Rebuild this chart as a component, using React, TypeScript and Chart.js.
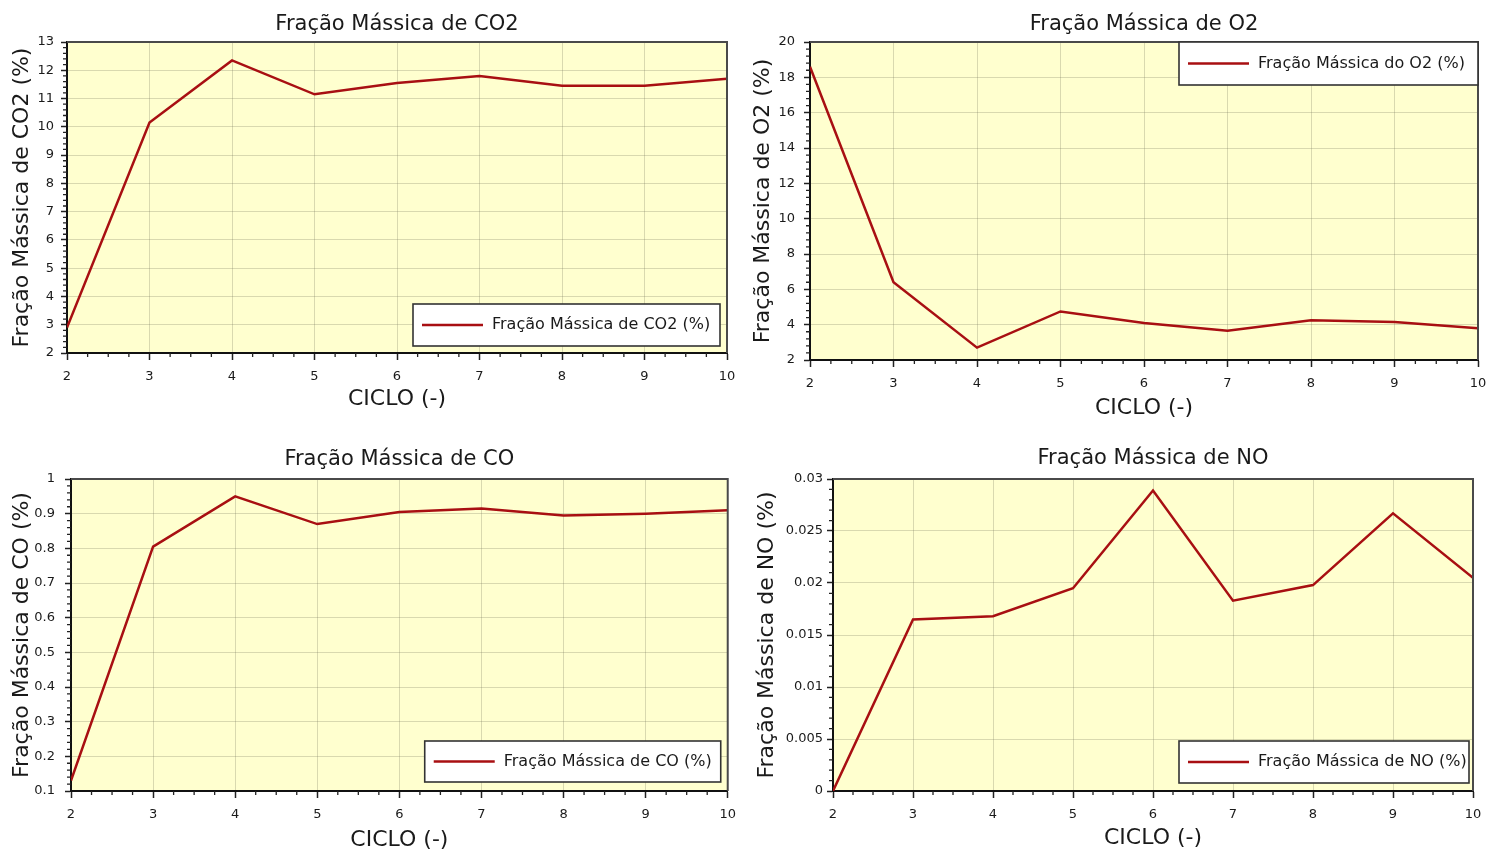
import React, { useEffect, useRef } from "react";
import { Chart, registerables } from "chart.js";

Chart.register(...registerables);

// ---------- data ----------
const cycles = [2, 3, 4, 5, 6, 7, 8, 9, 10];
const xTicks = [2, 3, 4, 5, 6, 7, 8, 9, 10];

const co2Values = [2.9, 10.15, 12.35, 11.15, 11.55, 11.8, 11.45, 11.45, 11.7];
const o2Values = [18.6, 6.4, 2.7, 4.75, 4.1, 3.65, 4.25, 4.15, 3.8];
const coValues = [0.13, 0.805, 0.95, 0.87, 0.905, 0.915, 0.895, 0.9, 0.91];
const noValues = [0, 0.0165, 0.0168, 0.0195, 0.0289, 0.0183, 0.0198, 0.0267, 0.0205];

const co2YTicks = [2, 3, 4, 5, 6, 7, 8, 9, 10, 11, 12, 13];
const o2YTicks = [2, 4, 6, 8, 10, 12, 14, 16, 18, 20];
const coYTicks = [0.1, 0.2, 0.3, 0.4, 0.5, 0.6, 0.7, 0.8, 0.9, 1];
const noYTicks = [0, 0.005, 0.01, 0.015, 0.02, 0.025, 0.03];

const chartTitles = [
  "Fração Mássica de CO2",
  "Fração Mássica de O2",
  "Fração Mássica de CO",
  "Fração Mássica de NO",
];
const yTitles = [
  "Fração Mássica de CO2 (%)",
  "Fração Mássica de O2 (%)",
  "Fração Mássica de CO (%)",
  "Fração Mássica de NO (%)",
];
const legendLabels = [
  "Fração Mássica de CO2 (%)",
  "Fração Mássica do O2 (%)",
  "Fração Mássica de CO (%)",
  "Fração Mássica de NO (%)",
];
const xTitle = "CICLO (-)";

// ---------- styles ----------
const FONT = "'DejaVu Sans', 'Liberation Sans', sans-serif";
const LINE_COLOR = "#a80f12";
const PLOT_BG = "#ffffcf";
const GRID_COLOR = "rgba(120,120,95,0.28)";
const TEXT = "#1a1a1a";

Chart.defaults.font.family = FONT;

type Panel = {
  title: string;
  yTitle: string;
  legend: string;
  values: number[];
  yTicks: number[];
  yMinor: number;
  canvas: { left: number; top: number; width: number; height: number };
  plotLeft: number;
  plotTop: number;
  padRight: number;
  xAxisHeight: number;
  yTitlePad: number;
  yTickPad: number;
  xTitlePad: number;
  titleGap: number;
  legendBox: { corner: "br" | "tr"; dx: number; dy: number; w: number; h: number };
};

const panels: Panel[] = [
  {
    title: chartTitles[0],
    yTitle: yTitles[0],
    legend: legendLabels[0],
    values: co2Values,
    yTicks: co2YTicks,
    yMinor: 0.2,
    canvas: { left: 0, top: 0, width: 745, height: 425 },
    plotLeft: 67,
    plotTop: 42,
    padRight: 18,
    xAxisHeight: 72,
    yTitlePad: 11,
    yTickPad: 7,
    xTitlePad: 15,
    titleGap: 12,
    legendBox: { corner: "br", dx: 7, dy: 7, w: 307, h: 42 },
  },
  {
    title: chartTitles[1],
    yTitle: yTitles[1],
    legend: legendLabels[1],
    values: o2Values,
    yTicks: o2YTicks,
    yMinor: 0.4,
    canvas: { left: 745, top: 0, width: 753, height: 425 },
    plotLeft: 65,
    plotTop: 42,
    padRight: 20,
    xAxisHeight: 65,
    yTitlePad: 7,
    yTickPad: 9,
    xTitlePad: 6,
    titleGap: 12,
    legendBox: { corner: "tr", dx: 0, dy: 0, w: 299, h: 43 },
  },
  {
    title: chartTitles[2],
    yTitle: yTitles[2],
    legend: legendLabels[2],
    values: coValues,
    yTicks: coYTicks,
    yMinor: 0.02,
    canvas: { left: 0, top: 430, width: 745, height: 422 },
    plotLeft: 71,
    plotTop: 49,
    padRight: 16,
    xAxisHeight: 61,
    yTitlePad: 11,
    yTickPad: 10,
    xTitlePad: 1,
    titleGap: 14,
    legendBox: { corner: "br", dx: 7, dy: 9, w: 296, h: 41 },
  },
  {
    title: chartTitles[3],
    yTitle: yTitles[3],
    legend: legendLabels[3],
    values: noValues,
    yTicks: noYTicks,
    yMinor: 0.001,
    canvas: { left: 745, top: 430, width: 753, height: 422 },
    plotLeft: 88,
    plotTop: 49,
    padRight: 25,
    xAxisHeight: 61,
    yTitlePad: 11,
    yTickPad: 4,
    xTitlePad: 3,
    titleGap: 15,
    legendBox: { corner: "br", dx: 4, dy: 8, w: 290, h: 42 },
  },
];

const fmt = (v: number) => String(Number(Number(v).toFixed(6)));

// ---------- decoration plugin (background, frame, minor ticks, title, legend) ----------
const decoPlugin = {
  id: "deco",
  beforeDraw(chart: any, _args: any, opts: any) {
    const { ctx, chartArea } = chart;
    ctx.save();
    ctx.fillStyle = PLOT_BG;
    ctx.fillRect(chartArea.left, chartArea.top, chartArea.right - chartArea.left, chartArea.bottom - chartArea.top);
    ctx.restore();
  },
  afterDraw(chart: any, _args: any, opts: any) {
    const { ctx, chartArea } = chart;
    const { left, right, top, bottom } = chartArea;
    const xs = chart.scales.x;
    const ys = chart.scales.y;
    ctx.save();

    // top / right frame
    ctx.strokeStyle = "#4a4a4a";
    ctx.lineWidth = 2;
    ctx.beginPath();
    ctx.moveTo(left, top);
    ctx.lineTo(right, top);
    ctx.lineTo(right, bottom);
    ctx.stroke();

    // minor ticks
    ctx.strokeStyle = "#222";
    ctx.lineWidth = 1.3;
    ctx.beginPath();
    const xMajors = xs.ticks.map((t: any) => t.value);
    for (let v = xs.min; v <= xs.max + 1e-9; v += opts.xMinor) {
      if (xMajors.some((m: number) => Math.abs(m - v) < 1e-9)) continue;
      const px = xs.getPixelForValue(v);
      ctx.moveTo(px, bottom);
      ctx.lineTo(px, bottom + 4);
    }
    const yMajors = ys.ticks.map((t: any) => t.value);
    const n = Math.round((ys.max - ys.min) / opts.yMinor);
    for (let i = 0; i <= n; i++) {
      const v = ys.min + i * opts.yMinor;
      if (yMajors.some((m: number) => Math.abs(m - v) < opts.yMinor * 1e-3)) continue;
      const py = ys.getPixelForValue(v);
      ctx.moveTo(left - 4, py);
      ctx.lineTo(left, py);
    }
    ctx.stroke();

    // chart title
    ctx.fillStyle = TEXT;
    ctx.font = `21px ${FONT}`;
    ctx.textAlign = "center";
    ctx.textBaseline = "alphabetic";
    ctx.fillText(opts.title, (left + right) / 2, top - opts.titleGap);

    // legend box
    const lb = opts.legendBox;
    const bx = right - lb.dx - lb.w;
    const by = lb.corner === "br" ? bottom - lb.dy - lb.h : top + lb.dy;
    ctx.fillStyle = "#ffffff";
    ctx.fillRect(bx, by, lb.w, lb.h);
    ctx.strokeStyle = "#333";
    ctx.lineWidth = 1.6;
    ctx.strokeRect(bx, by, lb.w, lb.h);
    const ds = chart.data.datasets[0];
    ctx.strokeStyle = ds.borderColor;
    ctx.lineWidth = 2.5;
    ctx.beginPath();
    ctx.moveTo(bx + 9, by + lb.h / 2);
    ctx.lineTo(bx + 70, by + lb.h / 2);
    ctx.stroke();
    ctx.fillStyle = TEXT;
    ctx.font = `16px ${FONT}`;
    ctx.textAlign = "left";
    ctx.textBaseline = "middle";
    ctx.fillText(ds.label, bx + 79, by + lb.h / 2);

    ctx.restore();
  },
};

function PanelChart({ p }: { p: Panel }) {
  const ref = useRef<HTMLCanvasElement>(null);
  useEffect(() => {
    const chart = new Chart(ref.current as HTMLCanvasElement, {
      type: "line",
      data: {
        datasets: [
          {
            label: p.legend,
            data: cycles.map((c, i) => ({ x: c, y: p.values[i] })),
            borderColor: LINE_COLOR,
            backgroundColor: LINE_COLOR,
            borderWidth: 2.5,
            pointRadius: 0,
            tension: 0,
            fill: false,
          },
        ],
      },
      options: {
        animation: false,
        responsive: false,
        maintainAspectRatio: false,
        layout: { padding: { top: p.plotTop, right: p.padRight, left: 0, bottom: 0 } },
        plugins: {
          legend: { display: false },
          title: { display: false },
          tooltip: { enabled: false },
          deco: {
            title: p.title,
            titleGap: p.titleGap,
            legendBox: p.legendBox,
            xMinor: 0.25,
            yMinor: p.yMinor,
          },
        } as any,
        scales: {
          x: {
            type: "linear",
            min: xTicks[0],
            max: xTicks[xTicks.length - 1],
            afterBuildTicks: (s: any) => {
              s.ticks = xTicks.map((v) => ({ value: v }));
            },
            afterFit: (s: any) => {
              s.height = p.xAxisHeight;
            },
            ticks: {
              color: TEXT,
              font: { size: 13 },
              padding: 9,
              maxRotation: 0,
              callback: (v: any) => fmt(v),
            },
            grid: {
              color: GRID_COLOR,
              lineWidth: 1,
              tickLength: 7,
              tickColor: "#222",
              tickWidth: 1.5,
            },
            border: { color: "#111", width: 2 },
            title: {
              display: true,
              text: xTitle,
              color: TEXT,
              font: { size: 22, lineHeight: 1 },
              padding: { top: 0, bottom: p.xTitlePad },
            },
          },
          y: {
            type: "linear",
            min: p.yTicks[0],
            max: p.yTicks[p.yTicks.length - 1],
            afterBuildTicks: (s: any) => {
              s.ticks = p.yTicks.map((v) => ({ value: v }));
            },
            afterFit: (s: any) => {
              s.width = p.plotLeft;
            },
            ticks: {
              color: TEXT,
              font: { size: 13 },
              padding: p.yTickPad,
              callback: (v: any) => fmt(v),
            },
            grid: {
              color: GRID_COLOR,
              lineWidth: 1,
              tickLength: 6,
              tickColor: "#222",
              tickWidth: 1.5,
            },
            border: { color: "#111", width: 2 },
            title: {
              display: true,
              text: p.yTitle,
              color: TEXT,
              font: { size: 22, lineHeight: 1 },
              padding: { top: p.yTitlePad, bottom: 0 },
            },
          },
        },
      },
      plugins: [decoPlugin as any],
    });
    return () => chart.destroy();
  }, []);
  return (
    <canvas
      ref={ref}
      width={p.canvas.width}
      height={p.canvas.height}
      style={{
        position: "absolute",
        left: p.canvas.left,
        top: p.canvas.top,
        width: p.canvas.width,
        height: p.canvas.height,
      }}
    />
  );
}

export default function App() {
  return (
    <div
      style={{
        position: "absolute",
        left: 0,
        top: 0,
        width: 1498,
        height: 852,
        background: "#ffffff",
        overflow: "hidden",
      }}
    >
      {panels.map((p, i) => (
        <PanelChart key={i} p={p} />
      ))}
    </div>
  );
}
